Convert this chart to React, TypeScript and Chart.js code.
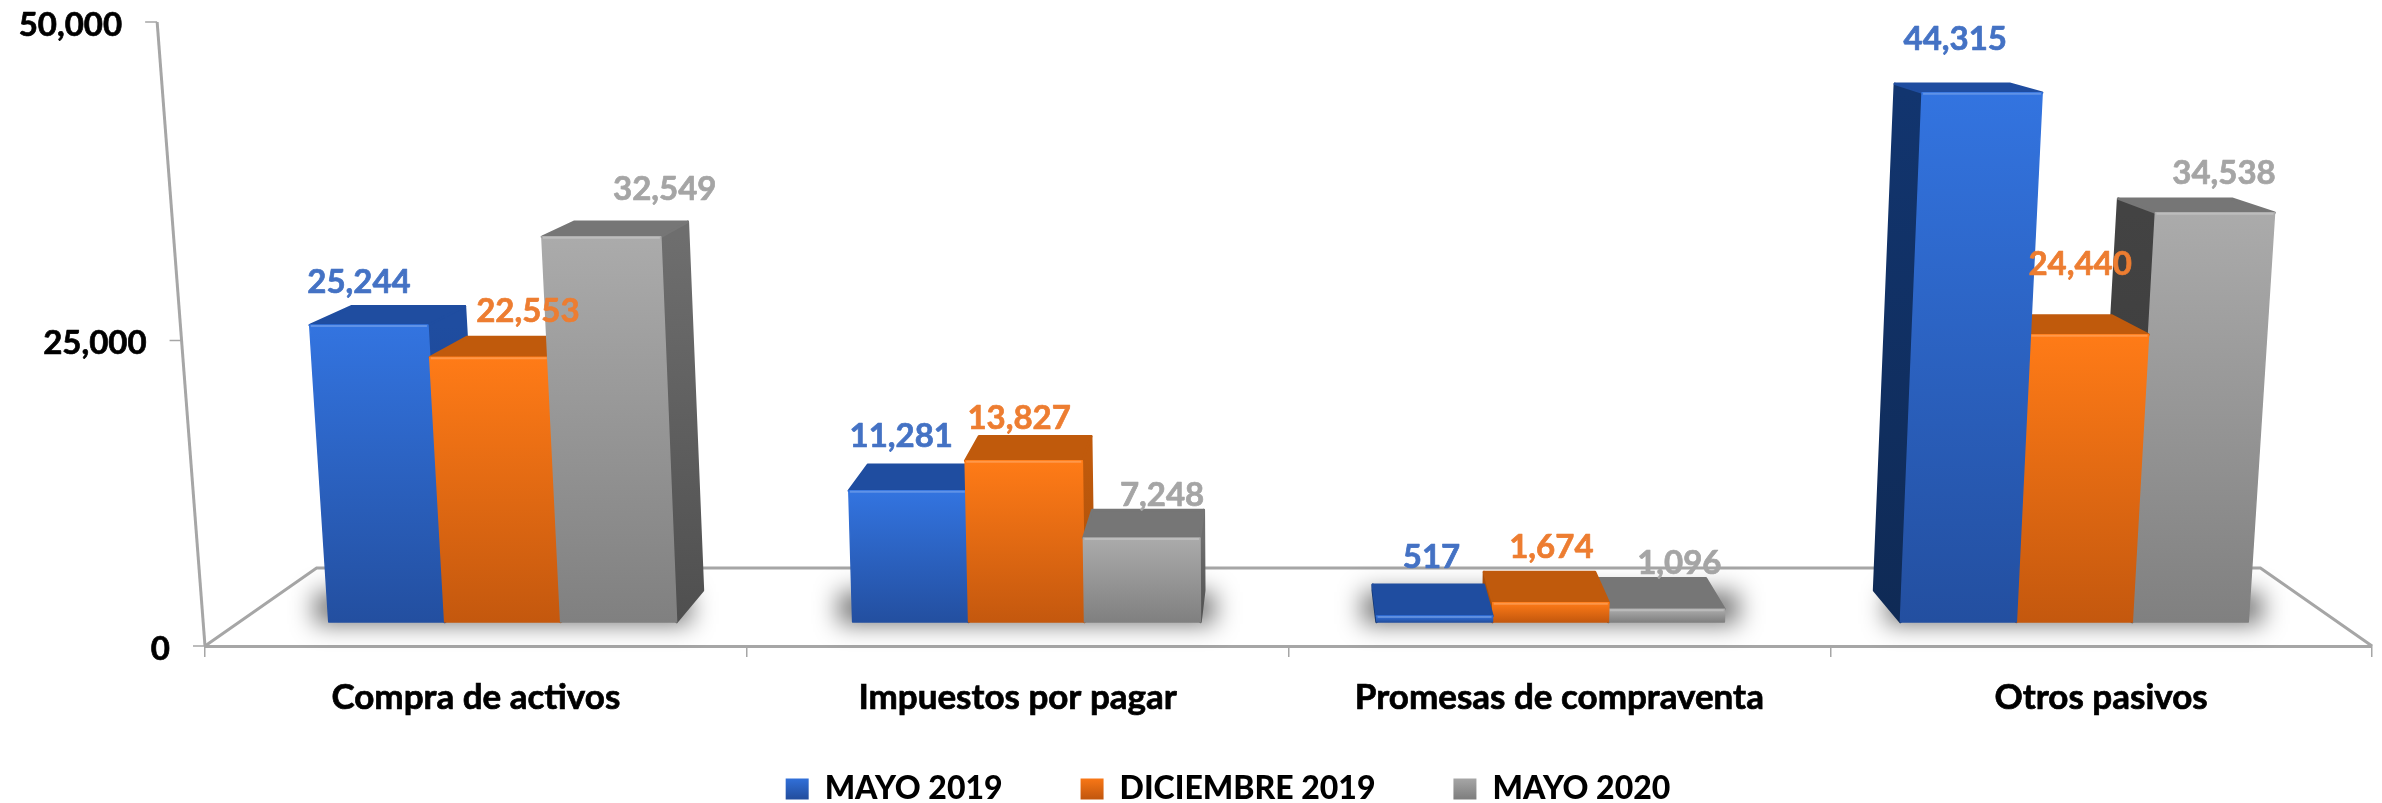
import React, { useEffect, useRef } from "react";
import { Chart, registerables, LinearScale } from "chart.js";

const categories = ["Compra de activos", "Impuestos por pagar", "Promesas de compraventa", "Otros pasivos"];
const mayo2019 = [25244, 11281, 517, 44315];
const diciembre2019 = [22553, 13827, 1674, 24440];
const mayo2020 = [32549, 7248, 1096, 34538];
const seriesNames = ["MAYO 2019", "DICIEMBRE 2019", "MAYO 2020"];
const axisTicks = [0, 25000, 50000];

const FONT = "Lato";
const labelColors = ["#4472C4", "#ED7D31", "#A5A5A5"];
const AXIS = "#A6A6A6";
// face colours: front top, front bottom, top face, side near, side far
const faces = [
  { ft: "#3374E0", fb: "#234FA0", top: "#1F4DA0", r1: "#1F4DA0", r2: "#1A3F85", l1: "#12356F", l2: "#0F2A55" },
  { ft: "#FF7B17", fb: "#C4580E", top: "#C05A0C", r1: "#C05A0C", r2: "#A84E0A", l1: "#A84E0A", l2: "#8F4208" },
  { ft: "#ABABAB", fb: "#808080", top: "#767676", r1: "#6E6E6E", r2: "#4F4F4F", l1: "#434343", l2: "#3A3A3A" },
];
// label displacement from each bar's head, per series then category
const labelShift = [
  [[3, -43], [3.5, -54], [-8, -59], [-26, -53]],
  [[52, -46], [1.5, -42.5], [-8, -55], [-21, -70]],
  [[69, -47], [24.5, -43], [0, -46], [3, -39]],
];

const VY = -112; // vanishing point height
const F0 = 0.033; // how far the bars stand back from the floor's front edge
const K = 0.000067; // convergence of the verticals
const D = 0.043; // bar depth
const FLOOR = 0.103; // floor depth

class PerspectiveScale extends LinearScale {
  static id = "perspective";
  static defaults = {};
  getPixelForValue(v: number) {
    const t = (v - this.min) / (this.max - this.min);
    return super.getPixelForValue(v) + ((this.options as any).bow || 0) * 4 * t * (1 - t);
  }
}

Chart.register(...registerables, PerspectiveScale);

type P = [number, number];

function poly(ctx: CanvasRenderingContext2D, pts: P[], fill: any, stroke?: any, lw = 1.5) {
  ctx.beginPath();
  pts.forEach((p, i) => (i ? ctx.lineTo(p[0], p[1]) : ctx.moveTo(p[0], p[1])));
  ctx.closePath();
  ctx.fillStyle = fill;
  ctx.fill();
  ctx.strokeStyle = stroke || fill;
  ctx.lineWidth = lw;
  ctx.lineJoin = "round";
  ctx.stroke();
}

function heavyText(ctx: CanvasRenderingContext2D, s: string, x: number, y: number, color: string) {
  ctx.fillStyle = color;
  ctx.strokeStyle = color;
  ctx.lineWidth = 0.7;
  ctx.lineJoin = "round";
  ctx.fillText(s, x, y);
  ctx.strokeText(s, x, y);
}

const threeD = {
  id: "threeD",
  afterLayout(chart: any) {
    // let the category labels run past the scale's box, into the legend's margin
    chart.scales.x.bottom = chart.legend.top + 75;
  },
  beforeDatasetsDraw(chart: any) {
    const ctx: CanvasRenderingContext2D = chart.ctx;
    const { left, right, top, bottom } = chart.chartArea;
    const CX = (left + right) / 2;
    const toBack = (p: P, d: number): P => [p[0] + (CX - p[0]) * d, p[1] + (VY - p[1]) * d];
    const yScale = chart.scales.y;
    ctx.save();

    // floor outline
    const fl: P = [left, bottom];
    const fr: P = [right, bottom];
    const bl = toBack(fl, FLOOR);
    const br = toBack(fr, FLOOR);
    ctx.strokeStyle = AXIS;
    ctx.lineWidth = 3;
    ctx.lineJoin = "miter";
    ctx.beginPath();
    ctx.moveTo(fl[0], fl[1]);
    ctx.lineTo(bl[0], bl[1]);
    ctx.lineTo(br[0], br[1]);
    ctx.lineTo(fr[0], fr[1]);
    ctx.stroke();

    // leaning value axis, with its ticks and labels
    const axisX = (y: number) => left - 0.0767 * (bottom - y);
    ctx.beginPath();
    ctx.moveTo(left, bottom);
    ctx.lineTo(axisX(top), top);
    ctx.stroke();
    ctx.font = `bold 33px ${FONT}`;
    ctx.textAlign = "right";
    ctx.textBaseline = "middle";
    yScale.ticks.forEach((t: any) => {
      const y = yScale.getPixelForValue(t.value);
      const x = axisX(y);
      ctx.strokeStyle = AXIS;
      ctx.lineWidth = 1.5;
      ctx.beginPath();
      ctx.moveTo(x - 12, y);
      ctx.lineTo(x, y);
      ctx.stroke();
      heavyText(ctx, t.label, x - 35, y + 3, "#000");
    });

    const metas = chart.data.datasets.map((_: any, i: number) => chart.getDatasetMeta(i));
    const place = (el: any) => {
      const lift = (x: number, y: number): P => {
        const x0 = x + (CX - x) * F0;
        return [CX + (x0 - CX) * (1 + K * (el.base - y)), y];
      };
      const hw = el.width / 2;
      return {
        tl: lift(el.x - hw, el.y),
        tr: lift(el.x + hw, el.y),
        br: lift(el.x + hw, el.base),
        bl: lift(el.x - hw, el.base),
      };
    };

    // soft shadow under each group
    categories.forEach((_, c) => {
      const a = place(metas[0].data[c]);
      const b = place(metas[2].data[c]);
      ctx.save();
      ctx.filter = "blur(12px)";
      ctx.fillStyle = "rgba(0,0,0,0.55)";
      ctx.fillRect(a.bl[0] - 14, a.bl[1] - 30, b.br[0] - a.bl[0] + 28, 32);
      ctx.restore();
    });

    // bars, furthest from the centre first
    categories.forEach((_, c) => {
      const order = [0, 1, 2].sort(
        (i, j) => Math.abs(metas[j].data[c].x - CX) - Math.abs(metas[i].data[c].x - CX)
      );
      order.forEach((s) => {
        const el = metas[s].data[c];
        const f = faces[s];
        const q = place(el);
        const btl = toBack(q.tl, D);
        const btr = toBack(q.tr, D);
        const bbr = toBack(q.br, D);
        const bbl = toBack(q.bl, D);
        if (q.tr[0] < CX) {
          const g = ctx.createLinearGradient(0, el.y, 0, el.base);
          g.addColorStop(0, f.r1);
          g.addColorStop(1, f.r2);
          poly(ctx, [q.tr, btr, bbr, q.br], g, undefined, 2.5);
        } else if (q.tl[0] > CX) {
          const g = ctx.createLinearGradient(0, el.y, 0, el.base);
          g.addColorStop(0, f.l1);
          g.addColorStop(1, f.l2);
          poly(ctx, [q.tl, btl, bbl, q.bl], g, undefined, 2.5);
        }
        poly(ctx, [q.tl, btl, btr, q.tr], f.top, undefined, 2.5);
        const g = ctx.createLinearGradient(0, el.y, 0, el.base);
        g.addColorStop(0, f.ft);
        g.addColorStop(1, f.fb);
        poly(ctx, [q.tl, q.tr, q.br, q.bl], g);
        ctx.strokeStyle = "rgba(255,255,255,0.22)";
        ctx.lineWidth = 2;
        ctx.beginPath();
        ctx.moveTo(q.tl[0] + 1, q.tl[1] + 1);
        ctx.lineTo(q.tr[0] - 1, q.tr[1] + 1);
        ctx.stroke();
      });
    });

    // value labels
    ctx.font = `bold 33px ${FONT}`;
    ctx.textAlign = "center";
    ctx.textBaseline = "middle";
    metas.forEach((m: any, s: number) => {
      m.data.forEach((el: any, c: number) => {
        const v = chart.data.datasets[s].data[c];
        const [dx, dy] = labelShift[s][c];
        heavyText(ctx, v.toLocaleString("en-US"), el.x + dx, el.y + dy, labelColors[s]);
      });
    });
    ctx.restore();
    return false;
  },
};

const LEGEND_FONT = 32;
const LEGEND_GAP = 78;
const OVERHANG = 12; // the legend's margin hangs below the canvas

export default function App() {
  const ref = useRef<HTMLCanvasElement>(null);
  useEffect(() => {
    const chart = new Chart(ref.current!, {
      type: "bar",
      data: {
        labels: categories,
        datasets: [mayo2019, diciembre2019, mayo2020].map((data, i) => ({
          label: seriesNames[i],
          data,
          yAxisID: "yBar",
          backgroundColor: faces[i].ft,
          categoryPercentage: 0.664,
          barPercentage: 1,
        })),
      },
      plugins: [threeD],
      options: {
        responsive: false,
        animation: false,
        layout: { padding: { left: 84, right: 10, top: 22, bottom: -OVERHANG } },
        scales: {
          x: {
            grid: { display: true, drawOnChartArea: false, offset: true, color: AXIS, tickLength: 11, lineWidth: 1.5 },
            border: { color: AXIS, width: 3 },
            ticks: {
              color: "#000",
              font: { family: FONT, size: 35, weight: "bold" },
              textStrokeColor: "#000",
              textStrokeWidth: 0.7,
              padding: 20,
              maxRotation: 0,
              autoSkip: false,
            },
            afterFit(s: any) {
              s.height = 803 + OVERHANG - (LEGEND_FONT + LEGEND_GAP + 10) - 646;
            },
          },
          y: {
            type: "perspective",
            position: "left",
            min: axisTicks[0],
            max: axisTicks[2],
            bow: 6.5,
            grid: { display: false },
            border: { display: false },
            ticks: {
              display: false,
              stepSize: axisTicks[1],
              callback: (v: any) => Number(v).toLocaleString("en-US"),
            },
            afterFit(s: any) {
              s.width = 121;
            },
          } as any,
          yBar: {
            type: "perspective",
            display: false,
            min: -2090,
            max: axisTicks[2],
            bow: 6.5,
          } as any,
        },
        plugins: {
          tooltip: { enabled: false },
          legend: {
            position: "bottom",
            labels: {
              color: "#000",
              font: { family: FONT, size: LEGEND_FONT, weight: "900" },
              boxWidth: 23,
              boxHeight: 21,
              padding: LEGEND_GAP,
              generateLabels: (c: any) =>
                c.data.datasets.map((d: any, i: number) => {
                  const g = c.ctx.createLinearGradient(0, 776, 0, 798);
                  g.addColorStop(0, faces[i].ft);
                  g.addColorStop(1, faces[i].fb);
                  return {
                    text: d.label,
                    fillStyle: g,
                    strokeStyle: g,
                    lineWidth: 0,
                    datasetIndex: i,
                    fontColor: "#000",
                  };
                }),
            },
          },
        },
      } as any,
    });
    return () => chart.destroy();
  }, []);
  return (
    <div style={{ position: "absolute", left: 0, top: 0, width: 2382, height: 803, overflow: "hidden", background: "#fff" }}>
      <canvas ref={ref} width={2382} height={803} style={{ display: "block" }} />
    </div>
  );
}
